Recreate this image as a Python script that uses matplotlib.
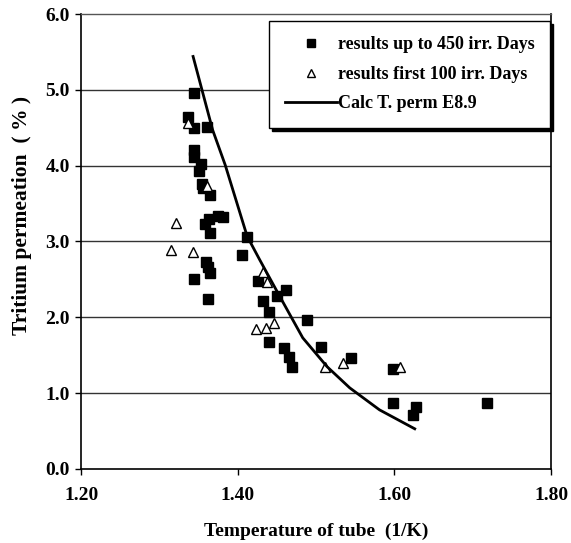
import matplotlib
matplotlib.use("Agg")
import matplotlib.pyplot as plt
import numpy as np

plt.rcParams.update({"font.family": "Liberation Serif", "font.weight": "bold"})

# results up to 450 irr. days (filled squares)
sq_x = [1.344, 1.336, 1.344, 1.361, 1.344, 1.344, 1.353, 1.350, 1.354, 1.356,
        1.364, 1.375, 1.381, 1.363, 1.358, 1.364, 1.412, 1.406, 1.359, 1.362,
        1.364, 1.344, 1.362, 1.426, 1.461, 1.450, 1.432, 1.440, 1.440, 1.459,
        1.488, 1.465, 1.469, 1.506, 1.545, 1.598, 1.598, 1.628, 1.624, 1.718]
sq_y = [4.96, 4.64, 4.50, 4.51, 4.21, 4.12, 4.02, 3.93, 3.76, 3.71,
        3.61, 3.34, 3.32, 3.30, 3.23, 3.11, 3.06, 2.82, 2.73, 2.66,
        2.59, 2.51, 2.24, 2.48, 2.36, 2.28, 2.22, 2.07, 1.68, 1.60,
        1.97, 1.48, 1.35, 1.61, 1.46, 1.32, 0.87, 0.82, 0.71, 0.87]

# results first 100 irr. days (open triangles)
tri_x = [1.336, 1.361, 1.321, 1.315, 1.343, 1.432, 1.437, 1.423, 1.436, 1.446,
         1.512, 1.534, 1.607]
tri_y = [4.56, 3.73, 3.25, 2.89, 2.86, 2.60, 2.47, 1.85, 1.86, 1.93,
         1.35, 1.40, 1.35]

# calculated permeation E8.9
calc_x = [1.343, 1.368, 1.384, 1.412, 1.428, 1.454, 1.483, 1.514, 1.543, 1.581, 1.626]
calc_y = [5.44, 4.47, 4.01, 3.07, 2.76, 2.27, 1.73, 1.35, 1.07, 0.78, 0.53]

x_ticks = [1.20, 1.40, 1.60, 1.80]
y_ticks = [0, 1, 2, 3, 4, 5, 6]

fig = plt.figure(figsize=(5.71, 5.43), dpi=100)
ax = fig.add_axes([0.142, 0.1363, 0.823, 0.8379])

for yv in y_ticks[1:-1]:
    ax.axhline(yv, color="#333333", lw=1.0, zorder=1)

ax.plot(sq_x, sq_y, "s", color="black", markersize=7, zorder=3,
        label="results up to 450 irr. Days")
ax.plot(tri_x, tri_y, "^", markerfacecolor="white", markeredgecolor="black",
        markeredgewidth=1.0, markersize=7.5, zorder=3,
        label="results first 100 irr. Days")
ax.plot(calc_x, calc_y, "-", color="black", lw=2.0, zorder=4,
        label="Calc T. perm E8.9")

ax.set_xlim(1.2, 1.8)
ax.set_ylim(0, 6)
ax.set_xticks(x_ticks)
ax.set_yticks(y_ticks)
ax.set_xticklabels(["%.2f" % v for v in x_ticks])
ax.set_yticklabels(["%.1f" % v for v in y_ticks])
ax.tick_params(axis="both", direction="out", length=4, width=1, labelsize=14)
ax.tick_params(axis="x", pad=9)
ax.tick_params(axis="y", pad=4)

for side in ["left", "bottom", "right"]:
    ax.spines[side].set_linewidth(1.2)
    ax.spines[side].set_color("black")
ax.spines["top"].set_color("#555555")
ax.spines["top"].set_linewidth(1.0)

ax.set_xlabel("Temperature of tube  (1/K)", fontsize=14, fontweight="bold")
ax.set_ylabel("Tritium permeation  ( % )", fontsize=15.5, fontweight="bold")
ax.xaxis.set_label_coords(0.5, -0.138)
ax.yaxis.set_label_coords(-0.1255, 0.558)
ax.xaxis.label.set_va("center")
ax.yaxis.label.set_va("center")

leg = ax.legend(loc="upper right", bbox_to_anchor=(0.998, 0.985),
                fontsize=13, frameon=True, fancybox=False,
                shadow={"color": "black", "alpha": 1.0},
                handlelength=2.9, handletextpad=0.05, borderpad=0.85,
                labelspacing=0.7, borderaxespad=0, markerscale=0.85)
leg.get_frame().set_edgecolor("black")
leg.get_frame().set_linewidth(1.0)
leg.set_zorder(10)

plt.savefig("out.png", dpi=100)
